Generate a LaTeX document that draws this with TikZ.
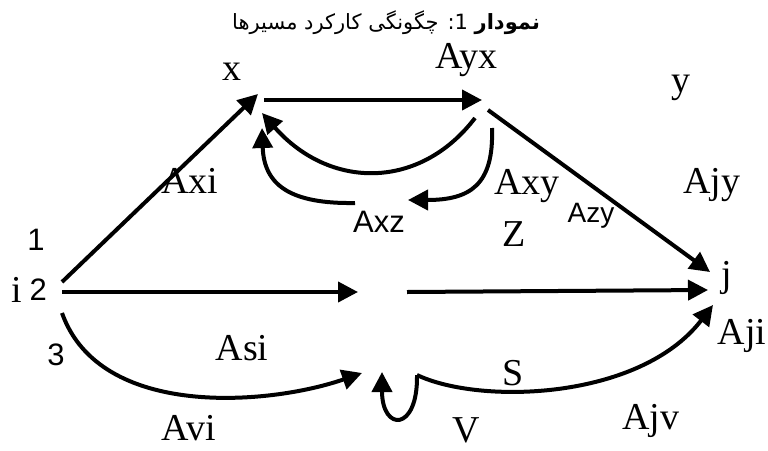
\documentclass[tikz,border=0pt]{standalone}
\usepackage{fontspec}
\setmainfont{Liberation Serif}
\newfontfamily\labelsans{Liberation Sans}
\newfontfamily\arabicfont[Script=Arabic]{DejaVu Sans}
\TeXXeTstate=1
\usetikzlibrary{arrows.meta,positioning}

\begin{document}
\begin{tikzpicture}[
        x=1pt, y=-1pt,
        every node/.style={inner sep=0pt, font=\fontsize{38}{40}\selectfont},
        sanslabel/.style={font=\labelsans\fontsize{31}{34}\selectfont},
        edge/.style={draw, line width=4pt, -{Triangle[length=20pt,width=20pt]}},
    ]
    \useasboundingbox[fill=white] (0,0) rectangle (768,450);

    % === TITLE ===
    \node (title) at (386,23) {\arabicfont\fontsize{21}{24}\selectfont\beginR\textbf{نمودار} 1: چگونگی کارکرد مسیرها\endR};

    % === LABELS ===
    \node (lx) at (232,72) {x};
    \node (layx) at (466,60) {Ayx};
    \node (ly) at (681,88) {y};
    \node (laxi) at (190,181) {Axi};
    \node (laxy) at (527,186) {Axy};
    \node (lajy) at (712,185) {Ajy};
    \node[sanslabel] (laxz) at (379,222) {Axz};
    \node (lz) at (514,234) {Z};
    \node[sanslabel, font=\labelsans\fontsize{28}{30}\selectfont] (lazy) at (591,216) {Azy};
    \node[sanslabel] (lone) at (36,240) {1};
    \node (li) at (17,290) {i};
    \node[sanslabel, right=7pt of li] (ltwo) {2};
    \node[sanslabel] (lthree) at (56,355) {3};
    \node (lj) at (727,278) {j};
    \node (laji) at (742,336) {Aji};
    \node (lasi) at (242,348) {Asi};
    \node (ls) at (513,373) {S};
    \node (lavi) at (189,428) {Avi};
    \node (lv) at (466,430) {V};
    \node (lajv) at (651,421) {Ajv};

    % === END POINTS ===
    \coordinate (ione) at (62,282);
    \coordinate (itwo) at (62,292);
    \coordinate (ithree) at (62,313);
    \coordinate (xin) at (258,94);
    \coordinate (xout) at (264,100);
    \coordinate (xback) at (262,113);
    \coordinate (xup) at (262,128);
    \coordinate (yxin) at (482,100);
    \coordinate (yxa) at (475,118);
    \coordinate (yxb) at (492,128);
    \coordinate (yxc) at (488,110);
    \coordinate (zin) at (408,200);
    \coordinate (zout) at (355,203);
    \coordinate (sin) at (358,292);
    \coordinate (sout) at (407,292);
    \coordinate (vin) at (362,373);
    \coordinate (vloop) at (382,372);
    \coordinate (vtip) at (417,375);
    \coordinate (jin1) at (710,272);
    \coordinate (jin2) at (708,290);
    \coordinate (jin3) at (713,305);

    % === CONNECTORS ===
    \draw[edge] (ione) -- (xin);
    \draw[edge] (xout) -- (yxin);
    \draw[edge] (yxa) .. controls (420,190) and (330,190) .. (xback);
    \draw[edge] (yxb) .. controls (494,185) and (470,200) .. (zin);
    \draw[edge] (zout) .. controls (290,204) and (264,185) .. (xup);
    \draw[edge] (yxc) -- (jin1);
    \draw[edge] (itwo) -- (sin);
    \draw[edge] (sout) -- (jin2);
    \draw[edge] (ithree) .. controls (100,420) and (270,405) .. (vin);
    \draw[edge] (vtip) .. controls (418,432) and (382,432) .. (vloop);
    \draw[edge] (vtip) .. controls (480,405) and (640,400) .. (jin3);

\end{tikzpicture}
\end{document}
